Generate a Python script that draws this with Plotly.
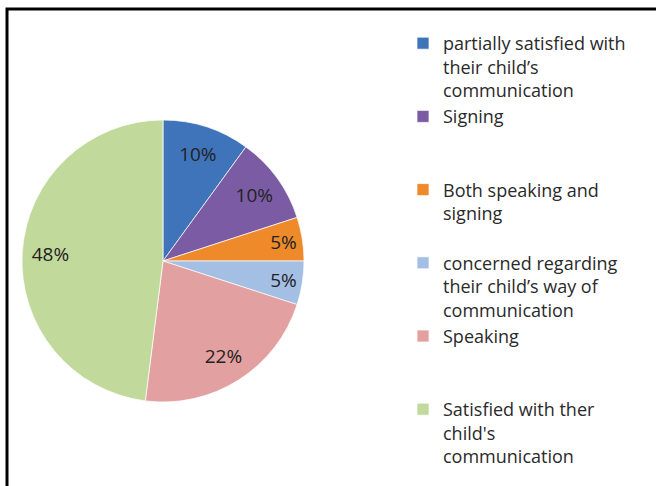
import plotly.graph_objects as go

labels = [
    "partially satisfied with<br>their child’s<br>communication",
    "Signing<br>\u00a0<br>\u00a0",
    "Both speaking and<br>signing<br>\u00a0",
    "concerned regarding<br>their child’s way of<br>communication",
    "Speaking<br>\u00a0<br>\u00a0",
    "Satisfied with ther<br>child's<br>communication",
]
values = [10, 10, 5, 5, 22, 48]
colors = ["#3f74ba", "#7b5ca4", "#ef8a2a", "#a4bfe4", "#e2a0a1", "#c2d99c"]

W, H = 656, 486
dom = dict(x=[22 / W, 304 / W], y=[(225 - 141) / H, (225 + 141) / H])

fig = go.Figure()
# filled pie (slices + legend)
fig.add_trace(go.Pie(
    labels=labels,
    values=values,
    sort=False,
    direction="clockwise",
    rotation=0,
    marker=dict(colors=colors, line=dict(color="rgba(255,255,255,0.7)", width=1)),
    textinfo="none",
    domain=dom,
    hoverinfo="label+percent",
))
# transparent ring carrying the percentage labels toward the rim
fig.add_trace(go.Pie(
    labels=labels,
    values=values,
    sort=False,
    direction="clockwise",
    rotation=0,
    hole=0.6,
    marker=dict(colors=["rgba(0,0,0,0)"] * len(values), line=dict(width=0)),
    texttemplate="%{value}%",
    textposition="inside",
    insidetextorientation="horizontal",
    textfont=dict(family="Open Sans", size=19, color="#222222"),
    domain=dom,
    showlegend=False,
    hoverinfo="skip",
))

fig.update_layout(
    width=W, height=H,
    margin=dict(l=0, r=0, t=0, b=0),
    paper_bgcolor="white",
    showlegend=True,
    legend=dict(
        x=403 / W, xanchor="left",
        y=1 - 25 / H, yanchor="top",
        valign="top",
        font=dict(family="Open Sans", size=18, color="#2a2a2a"),
        bgcolor="rgba(0,0,0,0)",
        traceorder="normal",
    ),
    shapes=[dict(
        type="rect", xref="paper", yref="paper",
        x0=7 / W, x1=1.02, y0=-0.02, y1=1 - 9 / H,
        line=dict(color="black", width=3),
        fillcolor="rgba(0,0,0,0)",
    )],
)

fig.write_html("out.html")
